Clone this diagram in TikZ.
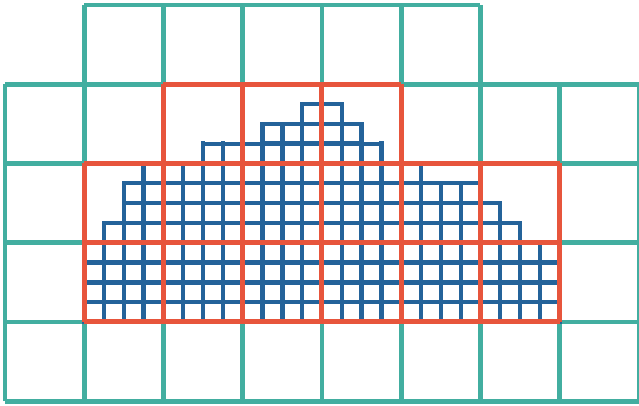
\documentclass[tikz,border=0pt]{standalone}
\definecolor{gridteal}{RGB}{66,174,160}
\definecolor{gridred}{RGB}{231,85,60}
\definecolor{gridblue}{RGB}{36,99,154}
\usepackage{tikz}
\usetikzlibrary{positioning}

\tikzset{
    coarse/.style={draw=gridteal, line width=3.3pt, step=4},
    refined/.style={draw=gridred, line width=3.6pt, step=4},
    fine/.style={draw=gridblue, line width=3.1pt, step=1, line cap=rect}
}

\begin{document}
\begin{tikzpicture}[x=0.5cm, y=0.5cm]
            \useasboundingbox (-0.25,-0.22) rectangle (32,20.25);
            % coarse mesh
            \draw[coarse] (4,16) grid (24,20);
            \draw[coarse] (0,0) grid (32,16);
            % fine cells, one column at a time
            \foreach \c/\h in {4/8,5/9,6/11,7/12,8/12,9/12,10/13,11/13,12/13,13/14,14/14,15/15,
                               16/15,17/14,18/13,19/12,20/12,21/11,22/11,23/11,24/10,25/9,26/8,27/8}
                \draw[fine] (\c,4) grid (\c+1,\h);
            % refined blocks
            \draw[refined] (8,12) grid (20,16);
            \draw[refined] (4,4) grid (28,12);
        \end{tikzpicture}
\end{document}
